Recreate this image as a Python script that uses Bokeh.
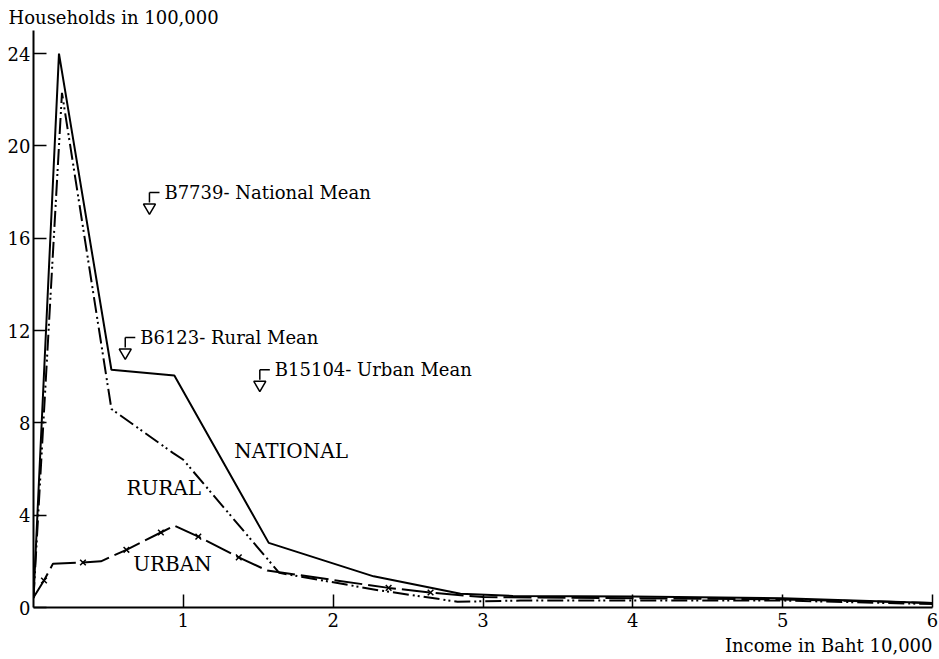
from bokeh.plotting import figure
from bokeh.models import Title, FixedTicker, Range1d
from bokeh.embed import file_html
from bokeh.resources import INLINE
from bokeh.core.properties import value

# ---------------- data (income in Baht 10,000 ; households in 100,000) -------------
national_x = [0.0, 0.17, 0.52, 0.94, 1.57, 2.27, 2.85, 3.2, 4.0, 5.0, 6.0]
national_y = [0.4, 24.0, 10.3, 10.05, 2.8, 1.35, 0.6, 0.5, 0.48, 0.4, 0.2]

rural_x = [0.0, 0.19, 0.52, 0.93, 1.0, 1.64, 2.3, 2.83, 3.25, 4.0, 5.0, 6.0]
rural_y = [0.4, 22.3, 8.6, 6.7, 6.4, 1.5, 0.75, 0.25, 0.3, 0.3, 0.3, 0.15]

urban_x = [0.0, 0.07, 0.13, 0.33, 0.45, 0.62, 0.85, 0.94, 1.1, 1.37, 1.56,
           2.37, 2.65, 3.0, 4.0, 5.0, 6.0]
urban_y = [0.43, 1.17, 1.9, 1.95, 2.0, 2.5, 3.25, 3.55, 3.07, 2.17, 1.6,
           0.85, 0.65, 0.45, 0.4, 0.35, 0.2]

urban_mark_x = [0.07, 0.33, 0.62, 0.85, 1.1, 1.37, 2.37, 2.65]
urban_mark_y = [1.17, 1.95, 2.5, 3.25, 3.07, 2.17, 0.85, 0.65]

mean_labels = ["B7739- National Mean", "B6123- Rural Mean", "B15104- Urban Mean"]
mean_x = [0.7739, 0.6123, 1.5104]
mean_y = [17.98, 11.7, 10.3]

series_labels = ["NATIONAL", "RURAL", "URBAN"]
series_label_x = [1.34, 0.62, 0.665]
series_label_y = [6.78, 5.16, 1.9]

x_ticks = [1, 2, 3, 4, 5, 6]
y_ticks = [0, 4, 8, 12, 16, 20, 24]

y_title = "Households in 100,000"
x_title = "Income in Baht 10,000"

FONT = "DejaVu Serif"

# ---------------- figure ----------------
p = figure(width=939, height=659,
           x_range=Range1d(0, 6), y_range=Range1d(0, 25),
           output_backend="svg", toolbar_location=None,
           min_border_left=33, min_border_right=7,
           min_border_top=30, min_border_bottom=52)
p.outline_line_color = None
p.grid.visible = False
p.background_fill_color = "white"
p.border_fill_color = "white"

p.title = Title(text=y_title, align="left", offset=-25, text_font=FONT,
                text_font_size="18px", text_font_style="normal",
                text_color="black", standoff=6)
p.add_layout(Title(text=x_title, align="right", text_font=FONT,
                   text_font_size="18px", text_font_style="normal",
                   text_color="black", standoff=7), "below")

p.xaxis.ticker = FixedTicker(ticks=x_ticks)
p.yaxis.ticker = FixedTicker(ticks=y_ticks)
for ax in (p.xaxis[0], p.yaxis[0]):
    ax.major_tick_in = 13
    ax.major_tick_out = 0
    ax.minor_tick_line_color = None
    ax.axis_line_width = 2
    ax.axis_line_color = "black"
    ax.major_tick_line_width = 1.5
    ax.major_tick_line_color = "black"
    ax.major_label_text_font = FONT
    ax.major_label_text_font_size = "18px"
    ax.major_label_text_color = "black"
p.xaxis.major_label_standoff = 5
p.yaxis.major_label_standoff = 3

# ---------------- series ----------------
p.line(national_x, national_y, line_color="black", line_width=2)
p.line(rural_x, rural_y, line_color="black", line_width=2,
       line_dash="16 4 2 3 2 4")
p.line(urban_x, urban_y, line_color="black", line_width=2, line_dash="28 6")
p.scatter(urban_mark_x, urban_mark_y, marker="x", size=8, line_width=1.5,
          line_color="black")

# ---------------- mean markers ----------------
tri_y = [v - 0.65 for v in mean_y]
stem_y0 = [v - 0.43 for v in mean_y]
bar_x1 = [v + 0.067 for v in mean_x]
txt_x = [v + 0.1 for v in mean_x]

p.scatter(mean_x, tri_y, marker="inverted_triangle", size=12,
          fill_color="white", line_color="black", line_width=1.5)
p.segment(mean_x, stem_y0, mean_x, mean_y, line_color="black", line_width=1.5)
p.segment(mean_x, mean_y, bar_x1, mean_y, line_color="black", line_width=1.5)
p.text(txt_x, mean_y, text=mean_labels, text_font=value(FONT),
       text_font_size="18px", text_baseline="middle", text_align="left",
       text_color="black")

# ---------------- series labels ----------------
p.text(series_label_x, series_label_y, text=series_labels, text_font=value(FONT),
       text_font_size="20px", text_baseline="middle", text_align="left",
       text_color="black")

open("out.html", "w").write(file_html(p, INLINE))
